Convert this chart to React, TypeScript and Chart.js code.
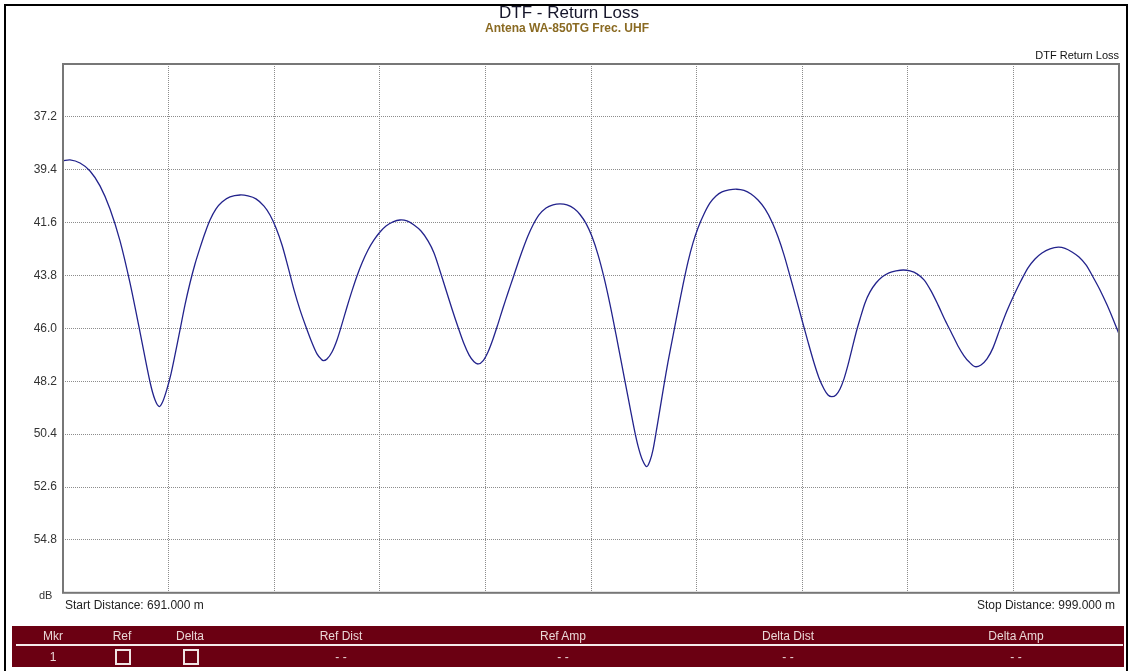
import React, { useEffect, useRef } from "react";
import { Chart, registerables } from "chart.js";

Chart.register(...registerables);

const distance = [
  691.00, 693.04, 695.96, 698.88, 701.79, 704.71, 707.63, 710.54, 713.46, 716.38, 717.83, 719.09,
  720.17, 721.33, 722.50, 723.67, 725.13, 726.58, 728.04, 729.50, 730.96, 732.42, 733.88, 735.63, 737.38, 739.71, 742.63,
  744.96, 747.29, 749.63, 751.38, 753.13, 754.88, 756.63, 758.38, 760.13, 761.88, 763.63, 765.08, 766.25, 766.92,
  768.00, 769.46, 770.92, 772.38, 773.83, 775.29, 776.75, 778.21, 779.96, 781.71, 783.46, 785.21, 787.25, 789.29,
  791.33, 793.38, 795.42, 797.46, 799.21, 800.96, 802.71, 804.46, 806.21, 807.96, 809.42, 810.88, 812.13,
  813.50, 814.96, 816.42, 817.88, 819.33, 820.79, 822.25, 823.71, 825.17, 826.63, 828.08, 829.83, 831.88, 833.92, 835.96,
  838.00, 840.04, 841.79, 843.54, 845.29, 847.04, 848.79, 850.54, 852.29, 854.04, 855.79, 857.54, 858.71, 859.88, 861.25,
  862.21, 863.08, 863.96, 865.13, 866.29, 867.46, 868.92, 870.38, 871.83, 873.29, 874.75, 876.21, 877.96, 879.71, 881.46, 883.21, 885.25, 887.49,
  889.63, 891.67, 893.71, 895.75, 897.79, 899.54, 901.29, 903.04, 904.79, 906.54, 908.29, 910.04, 911.50, 912.96, 914.13, 915.21,
  916.46, 917.63, 918.79, 919.96, 921.13, 922.29, 923.46, 924.92, 926.38, 928.13, 929.88, 931.92, 933.96, 936.09,
  938.04, 940.08, 942.13, 944.17, 946.21, 948.25, 950.29, 952.04, 953.79, 955.25, 957.00,
  958.75, 960.50, 962.25, 964.29, 966.33, 968.38, 970.42, 972.46, 974.50, 976.54, 978.88, 981.30,
  983.25, 985.29, 987.33, 989.38, 991.42, 993.46, 995.50, 997.25, 999.00,
];
const returnLoss = [
  39.03, 38.99, 39.12, 39.45, 40.07, 41.03, 42.36, 44.11, 46.15, 48.23, 48.97, 49.25,
  49.02, 48.52, 47.89, 47.10, 46.06, 45.02, 44.11, 43.32, 42.65, 42.03, 41.49, 41.03, 40.74, 40.53, 40.45,
  40.49, 40.61, 40.91, 41.28, 41.82, 42.53, 43.44, 44.40, 45.23, 45.94, 46.60, 47.06, 47.27, 47.34,
  47.27, 46.98, 46.48, 45.81, 45.11, 44.44, 43.82, 43.28, 42.74, 42.32, 41.99, 41.74, 41.57, 41.49,
  41.53, 41.70, 41.95, 42.36, 42.86, 43.61, 44.40, 45.19, 45.94, 46.64, 47.10, 47.39, 47.48,
  47.35, 46.98, 46.44, 45.81, 45.15, 44.52, 43.90, 43.28, 42.69, 42.15, 41.70, 41.28, 40.99, 40.86, 40.82,
  40.86, 41.01, 41.26, 41.63, 42.18, 42.93, 43.88, 45.00, 46.25, 47.55, 48.85, 50.14, 50.89, 51.43, 51.75,
  51.51, 51.05, 50.35, 49.35, 48.35, 47.39, 46.31, 45.23, 44.19, 43.23, 42.44, 41.82, 41.24, 40.78, 40.49, 40.32, 40.24, 40.21,
  40.26, 40.41, 40.66, 41.03, 41.57, 42.19, 42.94, 43.82, 44.73, 45.65, 46.56, 47.43, 48.06, 48.52, 48.77, 48.84,
  48.77, 48.52, 48.10, 47.52, 46.85, 46.19, 45.61, 44.94, 44.48, 44.11, 43.86, 43.69, 43.61, 43.57,
  43.61, 43.73, 43.98, 44.44, 45.02, 45.65, 46.23, 46.73, 47.14, 47.39, 47.59,
  47.52, 47.27, 46.81, 46.02, 45.27, 44.61, 44.02, 43.48, 43.11, 42.86, 42.69, 42.62,
  42.67, 42.82, 43.03, 43.36, 43.86, 44.40, 45.02, 45.61, 46.23,
];

const yTickValues = [35, 37.2, 39.4, 41.6, 43.8, 46.0, 48.2, 50.4, 52.6, 54.8, 57];
const yTickLabels = ["", "37.2", "39.4", "41.6", "43.8", "46.0", "48.2", "50.4", "52.6", "54.8", ""];
const xGridValues = [691, 721.8, 752.6, 783.4, 814.2, 845, 875.8, 906.6, 937.4, 968.2, 999];

const markerHeaders = ["Mkr", "Ref", "Delta", "Ref Dist", "Ref Amp", "Delta Dist", "Delta Amp"];
const markerRow = ["1", "box", "box", "- -", "- -", "- -", "- -"];
const columnCenters = [53, 122, 190, 341, 563, 788, 1016];

const FONT = "'Liberation Sans', Arial, sans-serif";

const frameBorder = {
  id: "frameBorder",
  afterDraw(chart: any) {
    const { ctx, chartArea } = chart;
    ctx.save();
    ctx.strokeStyle = "#777777";
    ctx.lineWidth = 2;
    ctx.strokeRect(chartArea.left, chartArea.top, chartArea.right - chartArea.left, chartArea.bottom - chartArea.top);
    ctx.restore();
  },
};

export default function App() {
  const ref = useRef<HTMLCanvasElement | null>(null);

  useEffect(() => {
    if (!ref.current) return;
    const pts = distance.map((d, i) => ({ x: d, y: returnLoss[i] }));
    const chart = new Chart(ref.current, {
      type: "line",
      data: {
        datasets: [
          {
            label: "DTF Return Loss",
            data: pts,
            borderColor: "#23238c",
            borderWidth: 1.3,
            pointRadius: 0,
            tension: 0.3,
            fill: false,
          },
        ],
      },
      options: {
        animation: false,
        responsive: false,
        maintainAspectRatio: false,
        layout: { autoPadding: false, padding: { left: 0, top: 64, right: 12, bottom: 7 } },
        plugins: { legend: { display: false }, tooltip: { enabled: false }, title: { display: false } },
        scales: {
          x: {
            type: "linear",
            min: 691,
            max: 999,
            afterBuildTicks: (s: any) => {
              s.ticks = xGridValues.map((v) => ({ value: v }));
            },
            afterFit: (s: any) => {
              s.height = 0;
            },
            ticks: { display: false },
            grid: { color: "#8c8c8c", lineWidth: 1, drawTicks: false },
            border: { display: false, dash: [1, 1] },
          },
          y: {
            type: "linear",
            min: 35,
            max: 57,
            reverse: true,
            afterBuildTicks: (s: any) => {
              s.ticks = yTickValues.map((v) => ({ value: v }));
            },
            afterFit: (s: any) => {
              s.width = 63;
            },
            ticks: {
              padding: 6,
              color: "#333333",
              font: { family: FONT, size: 12 },
              callback: (_v: any, i: number) => yTickLabels[i],
            },
            grid: { color: "#8c8c8c", lineWidth: 1, drawTicks: false },
            border: { display: false, dash: [1, 1] },
          },
        },
      },
      plugins: [frameBorder],
    });
    return () => chart.destroy();
  }, []);

  const textBase: React.CSSProperties = { position: "absolute", fontFamily: FONT, whiteSpace: "nowrap", lineHeight: 1 };

  return (
    <div style={{ position: "absolute", left: 0, top: 0, width: 1131, height: 671, background: "#fff", overflow: "hidden" }}>
      <canvas ref={ref} width={1131} height={606} style={{ position: "absolute", left: 0, top: 0, width: 1131, height: 606 }} />
      <div style={{ position: "absolute", left: 4, top: 4, width: 1120, height: 680, borderLeft: "2px solid #000", borderTop: "2px solid #000", borderRight: "2px solid #000" }} />
      <div style={{ ...textBase, left: 569, top: 4, transform: "translateX(-50%)", fontSize: 17, color: "#15152a" }}>DTF - Return Loss</div>
      <div style={{ ...textBase, left: 567, top: 22, transform: "translateX(-50%)", fontSize: 12, fontWeight: "bold", color: "#8a6a22" }}>Antena WA-850TG Frec. UHF</div>
      <div style={{ ...textBase, right: 1131 - 1119, top: 50, fontSize: 11, color: "#111" }}>DTF Return Loss</div>
      <div style={{ ...textBase, left: 39, top: 590, fontSize: 11, color: "#333" }}>dB</div>
      <div style={{ ...textBase, left: 65, top: 599, fontSize: 12, color: "#222" }}>Start Distance: 691.000 m</div>
      <div style={{ ...textBase, right: 1131 - 1115, top: 599, fontSize: 12, color: "#222" }}>Stop Distance: 999.000 m</div>
      <div style={{ position: "absolute", left: 12, top: 626, width: 1112, height: 41, background: "#6b0012" }}>
        <div style={{ position: "absolute", left: 4, top: 18, width: 1107, height: 2, background: "#f4eaea" }} />
        {markerHeaders.map((h, i) => (
          <div key={"h" + i} style={{ ...textBase, left: columnCenters[i] - 12, top: 4, transform: "translateX(-50%)", fontSize: 12, color: "#ead6d6" }}>
            {h}
          </div>
        ))}
        {markerRow.map((c, i) =>
          c === "box" ? (
            <div key={"r" + i} style={{ position: "absolute", left: columnCenters[i] - 12 - 7, top: 23, width: 12, height: 12, border: "2px solid #f0e4e4" }} />
          ) : (
            <div key={"r" + i} style={{ ...textBase, left: columnCenters[i] - 12, top: 25, transform: "translateX(-50%)", fontSize: 12, color: "#ead6d6" }}>
              {c}
            </div>
          )
        )}
      </div>
    </div>
  );
}
